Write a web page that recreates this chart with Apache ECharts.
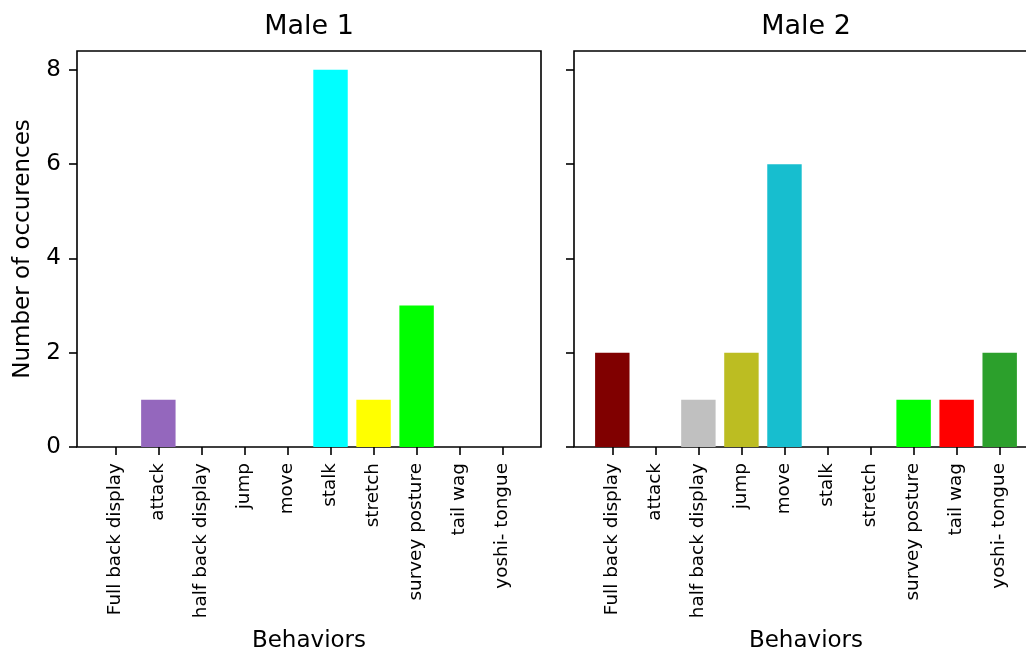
<!DOCTYPE html>
<html><head><meta charset="utf-8">
<script src="https://cdn.jsdelivr.net/npm/echarts@6/dist/echarts.min.js"></script>
<style>html,body{margin:0;padding:0;background:#fff}#c{width:1026px;height:653px}</style>
</head><body><div id="c"></div>
<script>
const categories = ['Full back display','attack','half back display','jump','move','stalk','stretch','survey posture','tail wag','yoshi- tongue'];
const panelTitles = ['Male 1','Male 2'];
const male1Values = [0,1,0,0,0,8,1,3,0,0];
const male2Values = [2,0,1,2,6,0,0,1,1,2];
const male1Colors = ['#1f77b4','#9467bd','#d62728','#8c564b','#e377c2','#00ffff','#ffff00','#00ff00','#7f7f7f','#bcbd22'];
const male2Colors = ['#800000','#ff7f0e','#c0c0c0','#bcbd22','#17becf','#00ffff','#ffff00','#00ff00','#ff0000','#2ca02c'];
const yTicks = [0,2,4,6,8];
const xLabel = 'Behaviors';
const yLabel = 'Number of occurences';

const FONT = 'DejaVu Sans';
const gridTop = 51, gridH = 396, gridW = 464;
const lefts = [77, 574];
const xMin = -0.89, xMax = 9.89;
const unit = gridW / (xMax - xMin);
const idx = categories.map((_, i) => i);
const panels = [
  {values: male1Values, colors: male1Colors},
  {values: male2Values, colors: male2Colors}
];

const tickStyle = {show: true, length: 8, inside: false, lineStyle: {color: '#000', width: 1.6}};

const option = {
  animation: false,
  backgroundColor: '#fff',
  title: panelTitles.map((t, i) => ({
    text: t, left: lefts[i] + gridW / 2, top: 13, textAlign: 'center', padding: 0,
    textStyle: {fontFamily: FONT, fontSize: 27, fontWeight: 'normal', color: '#000'}
  })),
  grid: lefts.map(l => ({left: l, top: gridTop, width: gridW, height: gridH, show: true,
    outerBoundsMode: 'none',
    borderColor: '#000', borderWidth: 1.6, backgroundColor: 'transparent', containLabel: false})),
  xAxis: lefts.map((l, i) => ({
    type: 'value', gridIndex: i, min: xMin, max: xMax,
    name: xLabel, nameLocation: 'middle', nameGap: 183,
    nameTextStyle: {fontFamily: FONT, fontSize: 23, color: '#000'},
    axisLine: {show: false, onZero: false},
    splitLine: {show: false},
    axisTick: Object.assign({customValues: idx}, tickStyle),
    axisLabel: {customValues: idx, rotate: 90, margin: 16, fontFamily: FONT, fontSize: 18.4, color: '#000',
      formatter: v => categories[Math.round(v)]}
  })),
  yAxis: lefts.map((l, i) => ({
    type: 'value', gridIndex: i, min: 0, max: 8.4,
    name: i === 0 ? yLabel : '', nameLocation: 'middle', nameGap: 42, nameRotate: 90,
    nameTextStyle: {fontFamily: FONT, fontSize: 23, color: '#000'},
    axisLine: {show: false, onZero: false},
    splitLine: {show: false},
    axisTick: Object.assign({customValues: yTicks}, tickStyle),
    axisLabel: {show: i === 0, customValues: yTicks, margin: 16, fontFamily: FONT, fontSize: 23, color: '#000'}
  })),
  series: panels.map((p, i) => ({
    type: 'bar', xAxisIndex: i, yAxisIndex: i, barWidth: unit * 0.8,
    data: p.values.map((v, k) => ({value: [k, v], itemStyle: {color: p.colors[k]}}))
  }))
};
const chart = echarts.init(document.getElementById('c'), null, {renderer: 'canvas'});
chart.setOption(option);
</script></body></html>
